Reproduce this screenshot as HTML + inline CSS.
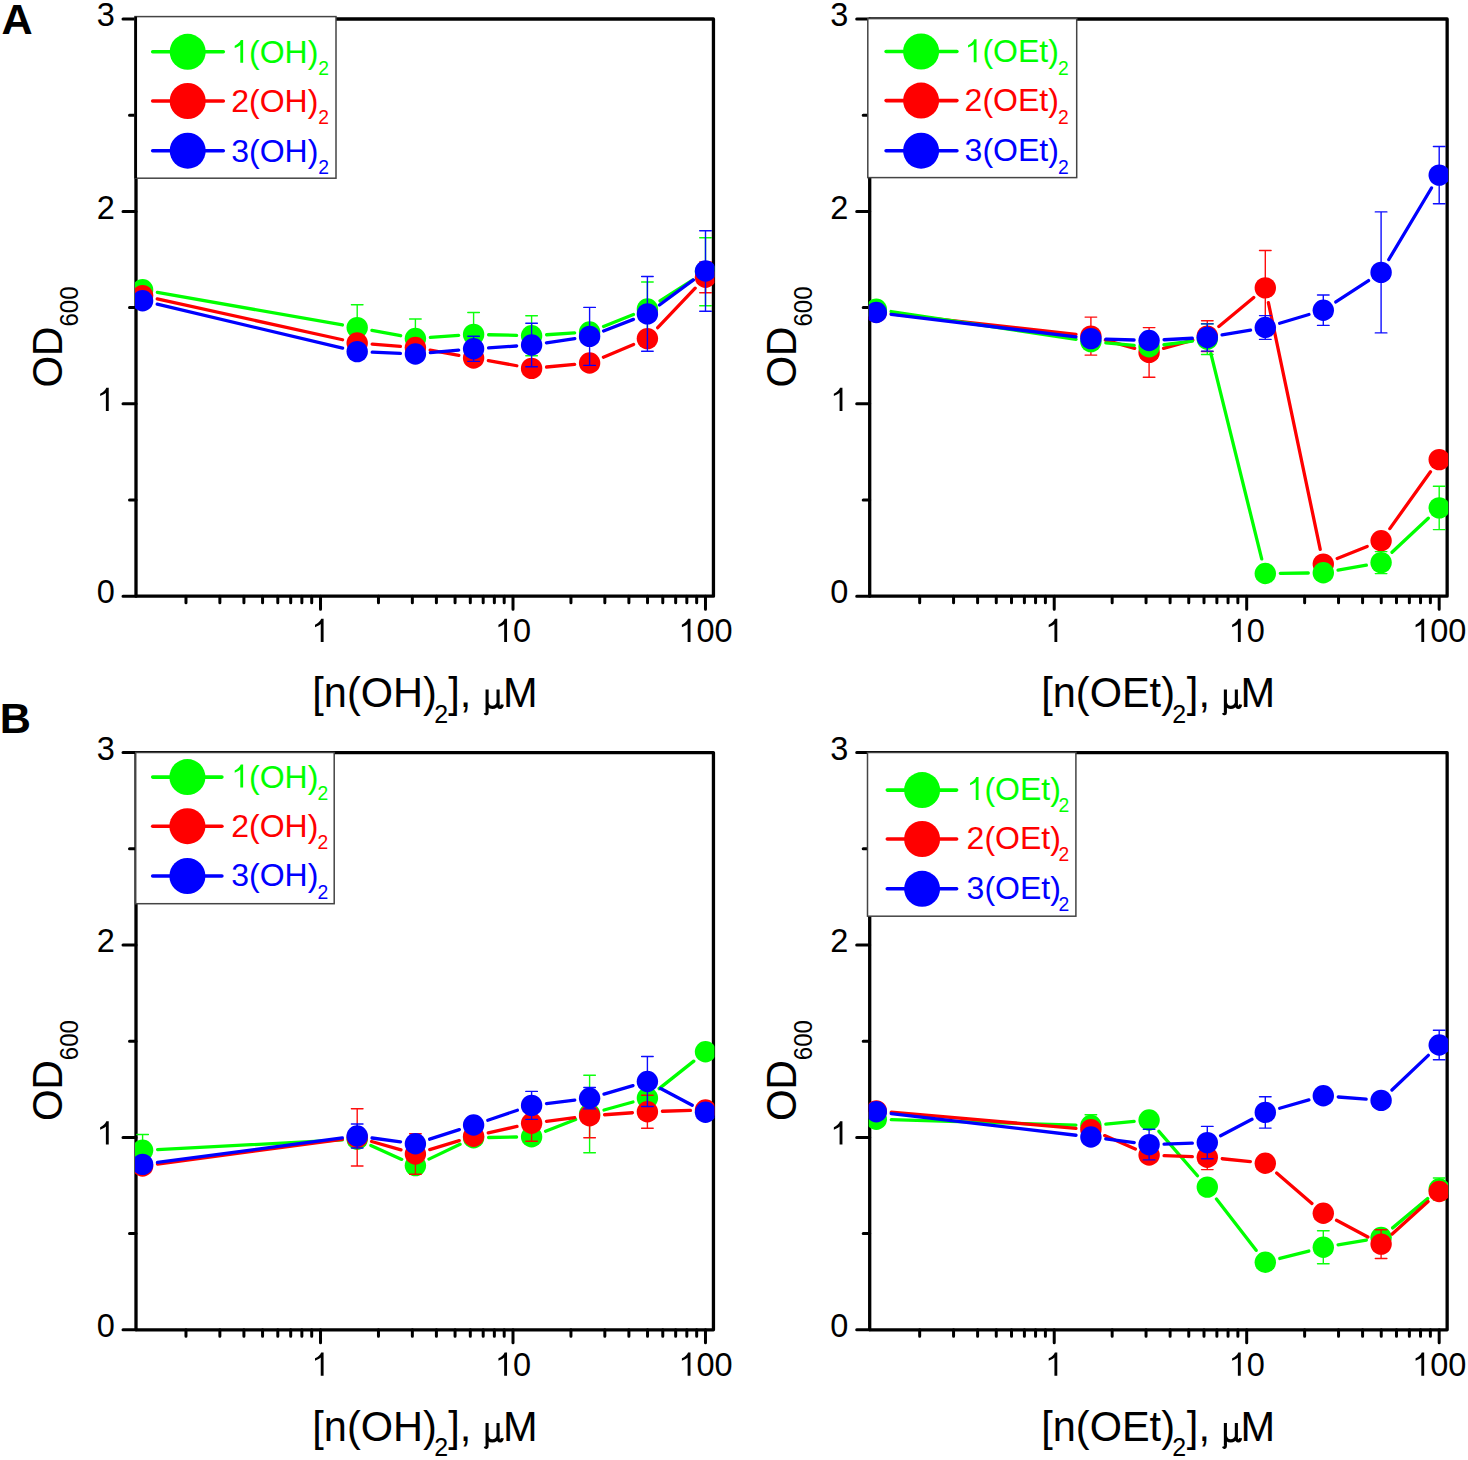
<!DOCTYPE html>
<html><head><meta charset="utf-8"><style>
html,body{margin:0;padding:0;background:#fff;overflow:hidden;}
svg{display:block;}
text{font-family:"Liberation Sans", sans-serif;}
</style></head><body>
<svg width="1468" height="1460" viewBox="0 0 1468 1460">
<rect width="1468" height="1460" fill="#fff"/>
<clipPath id="cAL"><rect x="135" y="18" width="579.45" height="579.2"/></clipPath>
<rect x="136" y="19" width="577.45" height="577.2" fill="none" stroke="#000" stroke-width="3.3" stroke-linejoin="round"/>
<path d="M123 596.2H136M123 403.8H136M123 211.4H136M123 19H136M129.5 500H136M129.5 307.6H136M129.5 115.2H136M185.98 596.2V602.7M219.87 596.2V602.7M243.92 596.2V602.7M262.57 596.2V602.7M277.81 596.2V602.7M290.7 596.2V602.7M301.86 596.2V602.7M311.71 596.2V602.7M320.52 596.2V609.2M378.46 596.2V602.7M412.35 596.2V602.7M436.4 596.2V602.7M455.06 596.2V602.7M470.3 596.2V602.7M483.18 596.2V602.7M494.35 596.2V602.7M504.19 596.2V602.7M513 596.2V609.2M570.94 596.2V602.7M604.84 596.2V602.7M628.89 596.2V602.7M647.54 596.2V602.7M662.78 596.2V602.7M675.67 596.2V602.7M686.83 596.2V602.7M696.68 596.2V602.7M705.48 596.2V609.2" stroke="#000" stroke-width="3.0" fill="none" stroke-linecap="round"/>
<text x="96.63" y="603.4" font-size="32.5" fill="#000">0</text>
<path d="M763 0H583V1147Q521 1090 422 1034Q318 975 222 942V1092Q366 1160 470 1262Q566 1356 612 1466H763Z" transform="translate(96.63,411) scale(0.01587,-0.01587)" fill="#000"/>
<text x="96.63" y="218.6" font-size="32.5" fill="#000">2</text>
<text x="96.63" y="26.2" font-size="32.5" fill="#000">3</text>
<path d="M763 0H583V1147Q521 1090 422 1034Q318 975 222 942V1092Q366 1160 470 1262Q566 1356 612 1466H763Z" transform="translate(311.48,642.1) scale(0.01587,-0.01587)" fill="#000"/>
<path d="M763 0H583V1147Q521 1090 422 1034Q318 975 222 942V1092Q366 1160 470 1262Q566 1356 612 1466H763Z" transform="translate(494.92,642.1) scale(0.01587,-0.01587)" fill="#000"/>
<text x="513" y="642.1" font-size="32.5" fill="#000">0</text>
<path d="M763 0H583V1147Q521 1090 422 1034Q318 975 222 942V1092Q366 1160 470 1262Q566 1356 612 1466H763Z" transform="translate(678.37,642.1) scale(0.01587,-0.01587)" fill="#000"/>
<text x="696.45" y="642.1" font-size="32.5" fill="#000">00</text>
<g transform="translate(0,707.4) scale(1,1.02) translate(0,-707.4)">
<text x="312.34" y="707.4" font-size="41.5">[n(OH)</text>
<text x="434.24" y="722.6" font-size="25">2</text>
<text x="448.28" y="707.4" font-size="41.5">],</text>
<path transform="translate(484.2,707.4)" d="M2.9 -17.6V4.9C2.9 6.5 1.5 6.7 0.9 5.3M2.9 -4.8C3.6 -1.3 5.6 -0.1 8.2 -0.1C10.6 -0.1 12.6 -1.4 13.85 -4.3M13.85 -17.6V-3.2C13.85 -1 15 -0.1 16.1 -0.1C17.2 -0.1 17.9 -1.2 18.1 -2.8" fill="none" stroke="#000" stroke-width="3.1"/>
<text x="502.9" y="707.4" font-size="41.5">M</text>
</g>
<text transform="translate(61.9,385.6) rotate(-90) scale(0.98,1.04)" font-size="41.5" x="-1.97">OD<tspan font-size="24.5" dy="15.7">600</tspan></text>
<g clip-path="url(#cAL)">
<path d="M157.37 292.31L342.43 324.99M371.94 330.36L400.66 335.74M430.36 337.45L458.64 335.45M488.6 334.74L516.6 335.36M546.57 334.75L574.63 332.95M603.54 326.45L633.46 314.55M660.03 300.91L692.87 279.89" stroke="#00ff00" stroke-width="3.3" fill="none" stroke-linecap="round"/>
<path d="M357.2 304.8V350.4M351.4 304.8H363M351.4 350.4H363M415.4 319V358M409.6 319H421.2M409.6 358H421.2M473.6 312.5V356.3M467.8 312.5H479.4M467.8 356.3H479.4M531.6 315.7V355.7M525.8 315.7H537.4M525.8 355.7H537.4M647.4 282V336M641.6 282H653.2M641.6 336H653.2M705.5 237.8V305.8M699.7 237.8H711.3M699.7 305.8H711.3" stroke="#00ff00" stroke-opacity="0.95" stroke-width="1.4" fill="none" stroke-linecap="round"/>
<circle cx="142.6" cy="289.7" r="10.7" fill="#00ff00"/>
<circle cx="357.2" cy="327.6" r="10.7" fill="#00ff00"/>
<circle cx="415.4" cy="338.5" r="10.7" fill="#00ff00"/>
<circle cx="473.6" cy="334.4" r="10.7" fill="#00ff00"/>
<circle cx="531.6" cy="335.7" r="10.7" fill="#00ff00"/>
<circle cx="589.6" cy="332" r="10.7" fill="#00ff00"/>
<circle cx="647.4" cy="309" r="10.7" fill="#00ff00"/>
<circle cx="705.5" cy="271.8" r="10.7" fill="#00ff00"/>
<path d="M157.25 298.84L342.55 339.76M372.16 344.16L400.44 346.34M430.16 350.16L458.84 355.34M488.36 360.65L516.84 365.75M546.54 367.01L574.66 364.39M603.42 357.17L633.58 344.43M657.72 327.71L695.18 288.19" stroke="#ff0000" stroke-width="3.3" fill="none" stroke-linecap="round"/>
<path d="M705.5 261.9V292.7M699.7 261.9H711.3M699.7 292.7H711.3" stroke="#ff0000" stroke-opacity="0.95" stroke-width="1.4" fill="none" stroke-linecap="round"/>
<circle cx="142.6" cy="295.6" r="10.7" fill="#ff0000"/>
<circle cx="357.2" cy="343" r="10.7" fill="#ff0000"/>
<circle cx="415.4" cy="347.5" r="10.7" fill="#ff0000"/>
<circle cx="473.6" cy="358" r="10.7" fill="#ff0000"/>
<circle cx="531.6" cy="368.4" r="10.7" fill="#ff0000"/>
<circle cx="589.6" cy="363" r="10.7" fill="#ff0000"/>
<circle cx="647.4" cy="338.6" r="10.7" fill="#ff0000"/>
<circle cx="705.5" cy="277.3" r="10.7" fill="#ff0000"/>
<path d="M157.2 304.16L342.6 348.14M372.19 352.22L400.41 353.38M430.34 352.67L458.66 350.13M488.57 347.82L516.63 345.98M546.44 342.8L574.76 338.6M603.58 330.96L633.42 319.34M659.47 304.99L693.43 279.91" stroke="#0000ff" stroke-width="3.3" fill="none" stroke-linecap="round"/>
<path d="M473.6 336.2V361.4M467.8 336.2H479.4M467.8 361.4H479.4M531.6 323.3V366.7M525.8 323.3H537.4M525.8 366.7H537.4M589.6 307.4V365.4M583.8 307.4H595.4M583.8 365.4H595.4M647.4 276.5V351.3M641.6 276.5H653.2M641.6 351.3H653.2M705.5 230.7V311.3M699.7 230.7H711.3M699.7 311.3H711.3" stroke="#0000ff" stroke-opacity="0.95" stroke-width="1.4" fill="none" stroke-linecap="round"/>
<circle cx="142.6" cy="300.7" r="10.7" fill="#0000ff"/>
<circle cx="357.2" cy="351.6" r="10.7" fill="#0000ff"/>
<circle cx="415.4" cy="354" r="10.7" fill="#0000ff"/>
<circle cx="473.6" cy="348.8" r="10.7" fill="#0000ff"/>
<circle cx="531.6" cy="345" r="10.7" fill="#0000ff"/>
<circle cx="589.6" cy="336.4" r="10.7" fill="#0000ff"/>
<circle cx="647.4" cy="313.9" r="10.7" fill="#0000ff"/>
<circle cx="705.5" cy="271" r="10.7" fill="#0000ff"/>
</g>
<rect x="135" y="16.6" width="201" height="161.6" fill="#fff" stroke="#444" stroke-width="1.5"/>
<path d="M135.75 16.6V178.2" stroke="#000" stroke-width="2.6"/>
<path d="M152.7 51.8H223.3" stroke="#00ff00" stroke-width="3.6" stroke-linecap="round"/>
<circle cx="187.7" cy="51.8" r="18" fill="#00ff00"/>
<path d="M763 0H583V1147Q521 1090 422 1034Q318 975 222 942V1092Q366 1160 470 1262Q566 1356 612 1466H763Z" transform="translate(231.22,62.8) scale(0.01562,-0.01562)" fill="#00ff00"/>
<text x="249.01" y="62.8" font-size="32.0" fill="#00ff00">(OH)</text>
<text x="318.23" y="75.1" font-size="19.3" fill="#00ff00">2</text>
<path d="M152.7 101H223.3" stroke="#ff0000" stroke-width="3.6" stroke-linecap="round"/>
<circle cx="187.7" cy="101" r="18" fill="#ff0000"/>
<text x="231.22" y="112" font-size="32.0" fill="#ff0000">2</text>
<text x="249.01" y="112" font-size="32.0" fill="#ff0000">(OH)</text>
<text x="318.23" y="124.3" font-size="19.3" fill="#ff0000">2</text>
<path d="M152.7 150.7H223.3" stroke="#0000ff" stroke-width="3.6" stroke-linecap="round"/>
<circle cx="187.7" cy="150.7" r="18" fill="#0000ff"/>
<text x="231.22" y="161.7" font-size="32.0" fill="#0000ff">3</text>
<text x="249.01" y="161.7" font-size="32.0" fill="#0000ff">(OH)</text>
<text x="318.23" y="174" font-size="19.3" fill="#0000ff">2</text>
<clipPath id="cAR"><rect x="868.7" y="18" width="579.45" height="579.2"/></clipPath>
<rect x="869.7" y="19" width="577.45" height="577.2" fill="none" stroke="#000" stroke-width="3.3" stroke-linejoin="round"/>
<path d="M856.7 596.2H869.7M856.7 403.8H869.7M856.7 211.4H869.7M856.7 19H869.7M863.2 500H869.7M863.2 307.6H869.7M863.2 115.2H869.7M919.68 596.2V602.7M953.57 596.2V602.7M977.62 596.2V602.7M996.27 596.2V602.7M1011.51 596.2V602.7M1024.4 596.2V602.7M1035.56 596.2V602.7M1045.41 596.2V602.7M1054.22 596.2V609.2M1112.16 596.2V602.7M1146.05 596.2V602.7M1170.1 596.2V602.7M1188.76 596.2V602.7M1204 596.2V602.7M1216.88 596.2V602.7M1228.05 596.2V602.7M1237.89 596.2V602.7M1246.7 596.2V609.2M1304.64 596.2V602.7M1338.54 596.2V602.7M1362.59 596.2V602.7M1381.24 596.2V602.7M1396.48 596.2V602.7M1409.37 596.2V602.7M1420.53 596.2V602.7M1430.38 596.2V602.7M1439.18 596.2V609.2" stroke="#000" stroke-width="3.0" fill="none" stroke-linecap="round"/>
<text x="830.33" y="603.4" font-size="32.5" fill="#000">0</text>
<path d="M763 0H583V1147Q521 1090 422 1034Q318 975 222 942V1092Q366 1160 470 1262Q566 1356 612 1466H763Z" transform="translate(830.33,411) scale(0.01587,-0.01587)" fill="#000"/>
<text x="830.33" y="218.6" font-size="32.5" fill="#000">2</text>
<text x="830.33" y="26.2" font-size="32.5" fill="#000">3</text>
<path d="M763 0H583V1147Q521 1090 422 1034Q318 975 222 942V1092Q366 1160 470 1262Q566 1356 612 1466H763Z" transform="translate(1045.18,642.1) scale(0.01587,-0.01587)" fill="#000"/>
<path d="M763 0H583V1147Q521 1090 422 1034Q318 975 222 942V1092Q366 1160 470 1262Q566 1356 612 1466H763Z" transform="translate(1228.62,642.1) scale(0.01587,-0.01587)" fill="#000"/>
<text x="1246.7" y="642.1" font-size="32.5" fill="#000">0</text>
<path d="M763 0H583V1147Q521 1090 422 1034Q318 975 222 942V1092Q366 1160 470 1262Q566 1356 612 1466H763Z" transform="translate(1412.07,642.1) scale(0.01587,-0.01587)" fill="#000"/>
<text x="1430.15" y="642.1" font-size="32.5" fill="#000">00</text>
<g transform="translate(0,707.4) scale(1,1.02) translate(0,-707.4)">
<text x="1041.24" y="707.4" font-size="41.5">[n(OEt)</text>
<text x="1172.14" y="722.6" font-size="25">2</text>
<text x="1186.88" y="707.4" font-size="41.5">],</text>
<path transform="translate(1222.5,707.4)" d="M2.9 -17.6V4.9C2.9 6.5 1.5 6.7 0.9 5.3M2.9 -4.8C3.6 -1.3 5.6 -0.1 8.2 -0.1C10.6 -0.1 12.6 -1.4 13.85 -4.3M13.85 -17.6V-3.2C13.85 -1 15 -0.1 16.1 -0.1C17.2 -0.1 17.9 -1.2 18.1 -2.8" fill="none" stroke="#000" stroke-width="3.1"/>
<text x="1240.6" y="707.4" font-size="41.5">M</text>
</g>
<text transform="translate(795.6,385.6) rotate(-90) scale(0.98,1.04)" font-size="41.5" x="-1.97">OD<tspan font-size="24.5" dy="15.7">600</tspan></text>
<g clip-path="url(#cAR)">
<path d="M891.21 313.86L1075.99 334.44M1105.34 340.15L1134.66 348.35M1163.54 348.35L1192.86 340.15M1218.84 326.51L1253.76 297.49M1268.38 302.58L1320.22 549.42M1337.21 558.49L1367.19 546.41M1389.83 528.6L1430.47 471.8" stroke="#ff0000" stroke-width="3.3" fill="none" stroke-linecap="round"/>
<path d="M1090.9 317.1V355.1M1085.1 317.1H1096.7M1085.1 355.1H1096.7M1149.1 327.6V377.2M1143.3 327.6H1154.9M1143.3 377.2H1154.9M1207.3 320.7V351.5M1201.5 320.7H1213.1M1201.5 351.5H1213.1M1265.3 250.5V325.3M1259.5 250.5H1271.1M1259.5 325.3H1271.1" stroke="#ff0000" stroke-opacity="0.95" stroke-width="1.4" fill="none" stroke-linecap="round"/>
<circle cx="876.3" cy="312.2" r="10.7" fill="#ff0000"/>
<circle cx="1090.9" cy="336.1" r="10.7" fill="#ff0000"/>
<circle cx="1149.1" cy="352.4" r="10.7" fill="#ff0000"/>
<circle cx="1207.3" cy="336.1" r="10.7" fill="#ff0000"/>
<circle cx="1265.3" cy="287.9" r="10.7" fill="#ff0000"/>
<circle cx="1323.3" cy="564.1" r="10.7" fill="#ff0000"/>
<circle cx="1381.1" cy="540.8" r="10.7" fill="#ff0000"/>
<circle cx="1439.2" cy="459.6" r="10.7" fill="#ff0000"/>
<path d="M891.13 311.53L1076.07 339.37M1105.84 342.91L1134.16 345.39M1163.97 344.76L1192.43 341.04M1210.9 353.66L1261.7 558.94M1280.3 573.32L1308.3 572.98M1338.07 570.19L1366.33 565.21M1392.02 552.32L1428.28 518.18" stroke="#00ff00" stroke-width="3.3" fill="none" stroke-linecap="round"/>
<path d="M1207.3 323.7V354.5M1201.5 323.7H1213.1M1201.5 354.5H1213.1M1381.1 551.6V573.6M1375.3 551.6H1386.9M1375.3 573.6H1386.9M1439.2 486.2V529.6M1433.4 486.2H1445M1433.4 529.6H1445" stroke="#00ff00" stroke-opacity="0.95" stroke-width="1.4" fill="none" stroke-linecap="round"/>
<circle cx="876.3" cy="309.3" r="10.7" fill="#00ff00"/>
<circle cx="1090.9" cy="341.6" r="10.7" fill="#00ff00"/>
<circle cx="1149.1" cy="346.7" r="10.7" fill="#00ff00"/>
<circle cx="1207.3" cy="339.1" r="10.7" fill="#00ff00"/>
<circle cx="1265.3" cy="573.5" r="10.7" fill="#00ff00"/>
<circle cx="1323.3" cy="572.8" r="10.7" fill="#00ff00"/>
<circle cx="1381.1" cy="562.6" r="10.7" fill="#00ff00"/>
<circle cx="1439.2" cy="507.9" r="10.7" fill="#00ff00"/>
<path d="M891.19 314.31L1076.01 336.79M1105.89 339.09L1134.11 340.01M1164.08 339.73L1192.32 338.27M1222.08 334.95L1250.52 330.05M1279.67 323.21L1308.93 314.49M1335.85 301.99L1368.55 280.61M1388.79 259.52L1431.51 187.98" stroke="#0000ff" stroke-width="3.3" fill="none" stroke-linecap="round"/>
<path d="M1207.3 323.9V351.1M1201.5 323.9H1213.1M1201.5 351.1H1213.1M1265.3 315.6V339.4M1259.5 315.6H1271.1M1259.5 339.4H1271.1M1323.3 295V325.4M1317.5 295H1329.1M1317.5 325.4H1329.1M1381.1 211.9V332.9M1375.3 211.9H1386.9M1375.3 332.9H1386.9M1439.2 146.5V203.7M1433.4 146.5H1445M1433.4 203.7H1445" stroke="#0000ff" stroke-opacity="0.95" stroke-width="1.4" fill="none" stroke-linecap="round"/>
<circle cx="876.3" cy="312.5" r="10.7" fill="#0000ff"/>
<circle cx="1090.9" cy="338.6" r="10.7" fill="#0000ff"/>
<circle cx="1149.1" cy="340.5" r="10.7" fill="#0000ff"/>
<circle cx="1207.3" cy="337.5" r="10.7" fill="#0000ff"/>
<circle cx="1265.3" cy="327.5" r="10.7" fill="#0000ff"/>
<circle cx="1323.3" cy="310.2" r="10.7" fill="#0000ff"/>
<circle cx="1381.1" cy="272.4" r="10.7" fill="#0000ff"/>
<circle cx="1439.2" cy="175.1" r="10.7" fill="#0000ff"/>
</g>
<rect x="867.8" y="18.6" width="208.9" height="159" fill="#fff" stroke="#444" stroke-width="1.5"/>
<path d="M886.1 51.5H956.9" stroke="#00ff00" stroke-width="3.6" stroke-linecap="round"/>
<circle cx="921.1" cy="51.5" r="18" fill="#00ff00"/>
<path d="M763 0H583V1147Q521 1090 422 1034Q318 975 222 942V1092Q366 1160 470 1262Q566 1356 612 1466H763Z" transform="translate(964.62,62.2) scale(0.01562,-0.01562)" fill="#00ff00"/>
<text x="982.41" y="62.2" font-size="32.0" fill="#00ff00">(OEt)</text>
<text x="1058.03" y="74.5" font-size="19.3" fill="#00ff00">2</text>
<path d="M886.1 100.6H956.9" stroke="#ff0000" stroke-width="3.6" stroke-linecap="round"/>
<circle cx="921.1" cy="100.6" r="18" fill="#ff0000"/>
<text x="964.62" y="111.3" font-size="32.0" fill="#ff0000">2</text>
<text x="982.41" y="111.3" font-size="32.0" fill="#ff0000">(OEt)</text>
<text x="1058.03" y="123.6" font-size="19.3" fill="#ff0000">2</text>
<path d="M886.1 150.7H956.9" stroke="#0000ff" stroke-width="3.6" stroke-linecap="round"/>
<circle cx="921.1" cy="150.7" r="18" fill="#0000ff"/>
<text x="964.62" y="161.4" font-size="32.0" fill="#0000ff">3</text>
<text x="982.41" y="161.4" font-size="32.0" fill="#0000ff">(OEt)</text>
<text x="1058.03" y="173.7" font-size="19.3" fill="#0000ff">2</text>
<clipPath id="cBL"><rect x="135" y="751.6" width="579.45" height="579.2"/></clipPath>
<rect x="136" y="752.6" width="577.45" height="577.2" fill="none" stroke="#000" stroke-width="3.3" stroke-linejoin="round"/>
<path d="M123 1329.8H136M123 1137.4H136M123 945H136M123 752.6H136M129.5 1233.6H136M129.5 1041.2H136M129.5 848.8H136M185.98 1329.8V1336.3M219.87 1329.8V1336.3M243.92 1329.8V1336.3M262.57 1329.8V1336.3M277.81 1329.8V1336.3M290.7 1329.8V1336.3M301.86 1329.8V1336.3M311.71 1329.8V1336.3M320.52 1329.8V1342.8M378.46 1329.8V1336.3M412.35 1329.8V1336.3M436.4 1329.8V1336.3M455.06 1329.8V1336.3M470.3 1329.8V1336.3M483.18 1329.8V1336.3M494.35 1329.8V1336.3M504.19 1329.8V1336.3M513 1329.8V1342.8M570.94 1329.8V1336.3M604.84 1329.8V1336.3M628.89 1329.8V1336.3M647.54 1329.8V1336.3M662.78 1329.8V1336.3M675.67 1329.8V1336.3M686.83 1329.8V1336.3M696.68 1329.8V1336.3M705.48 1329.8V1342.8" stroke="#000" stroke-width="3.0" fill="none" stroke-linecap="round"/>
<text x="96.63" y="1337" font-size="32.5" fill="#000">0</text>
<path d="M763 0H583V1147Q521 1090 422 1034Q318 975 222 942V1092Q366 1160 470 1262Q566 1356 612 1466H763Z" transform="translate(96.63,1144.6) scale(0.01587,-0.01587)" fill="#000"/>
<text x="96.63" y="952.2" font-size="32.5" fill="#000">2</text>
<text x="96.63" y="759.8" font-size="32.5" fill="#000">3</text>
<path d="M763 0H583V1147Q521 1090 422 1034Q318 975 222 942V1092Q366 1160 470 1262Q566 1356 612 1466H763Z" transform="translate(311.48,1375.7) scale(0.01587,-0.01587)" fill="#000"/>
<path d="M763 0H583V1147Q521 1090 422 1034Q318 975 222 942V1092Q366 1160 470 1262Q566 1356 612 1466H763Z" transform="translate(494.92,1375.7) scale(0.01587,-0.01587)" fill="#000"/>
<text x="513" y="1375.7" font-size="32.5" fill="#000">0</text>
<path d="M763 0H583V1147Q521 1090 422 1034Q318 975 222 942V1092Q366 1160 470 1262Q566 1356 612 1466H763Z" transform="translate(678.37,1375.7) scale(0.01587,-0.01587)" fill="#000"/>
<text x="696.45" y="1375.7" font-size="32.5" fill="#000">00</text>
<g transform="translate(0,1441) scale(1,1.02) translate(0,-1441)">
<text x="312.34" y="1441" font-size="41.5">[n(OH)</text>
<text x="434.24" y="1456.2" font-size="25">2</text>
<text x="448.28" y="1441" font-size="41.5">],</text>
<path transform="translate(484.2,1441)" d="M2.9 -17.6V4.9C2.9 6.5 1.5 6.7 0.9 5.3M2.9 -4.8C3.6 -1.3 5.6 -0.1 8.2 -0.1C10.6 -0.1 12.6 -1.4 13.85 -4.3M13.85 -17.6V-3.2C13.85 -1 15 -0.1 16.1 -0.1C17.2 -0.1 17.9 -1.2 18.1 -2.8" fill="none" stroke="#000" stroke-width="3.1"/>
<text x="502.9" y="1441" font-size="41.5">M</text>
</g>
<text transform="translate(61.9,1119.2) rotate(-90) scale(0.98,1.04)" font-size="41.5" x="-1.97">OD<tspan font-size="24.5" dy="15.7">600</tspan></text>
<g clip-path="url(#cBL)">
<path d="M157.58 1149.53L342.22 1139.97M370.86 1145.4L401.74 1159.4M428.94 1159.13L460.06 1144.27M488.6 1137.52L516.6 1136.98M545.57 1131.23L575.63 1119.47M604.06 1110L632.94 1102M659.14 1088.66L693.76 1061.14" stroke="#00ff00" stroke-width="3.3" fill="none" stroke-linecap="round"/>
<path d="M142.6 1134.5V1166.1M136.8 1134.5H148.4M136.8 1166.1H148.4M589.6 1075.3V1152.7M583.8 1075.3H595.4M583.8 1152.7H595.4" stroke="#00ff00" stroke-opacity="0.95" stroke-width="1.4" fill="none" stroke-linecap="round"/>
<circle cx="142.6" cy="1150.3" r="10.7" fill="#00ff00"/>
<circle cx="357.2" cy="1139.2" r="10.7" fill="#00ff00"/>
<circle cx="415.4" cy="1165.6" r="10.7" fill="#00ff00"/>
<circle cx="473.6" cy="1137.8" r="10.7" fill="#00ff00"/>
<circle cx="531.6" cy="1136.7" r="10.7" fill="#00ff00"/>
<circle cx="589.6" cy="1114" r="10.7" fill="#00ff00"/>
<circle cx="647.4" cy="1098" r="10.7" fill="#00ff00"/>
<circle cx="705.5" cy="1051.8" r="10.7" fill="#00ff00"/>
<path d="M157.47 1164.02L342.33 1139.38M371.62 1141.51L400.98 1149.89M429.74 1149.61L459.26 1140.59M488.24 1132.92L516.96 1126.48M546.48 1121.3L574.72 1117.7M604.56 1114.74L632.44 1112.76M662.39 1111.26L690.51 1110.44" stroke="#ff0000" stroke-width="3.3" fill="none" stroke-linecap="round"/>
<path d="M357.2 1108.8V1166M351.4 1108.8H363M351.4 1166H363M415.4 1133.8V1174.2M409.6 1133.8H421.2M409.6 1174.2H421.2M531.6 1105.2V1141.2M525.8 1105.2H537.4M525.8 1141.2H537.4M589.6 1093.8V1137.8M583.8 1093.8H595.4M583.8 1137.8H595.4M647.4 1095.2V1128.2M641.6 1095.2H653.2M641.6 1128.2H653.2" stroke="#ff0000" stroke-opacity="0.95" stroke-width="1.4" fill="none" stroke-linecap="round"/>
<circle cx="142.6" cy="1166" r="10.7" fill="#ff0000"/>
<circle cx="357.2" cy="1137.4" r="10.7" fill="#ff0000"/>
<circle cx="415.4" cy="1154" r="10.7" fill="#ff0000"/>
<circle cx="473.6" cy="1136.2" r="10.7" fill="#ff0000"/>
<circle cx="531.6" cy="1123.2" r="10.7" fill="#ff0000"/>
<circle cx="589.6" cy="1115.8" r="10.7" fill="#ff0000"/>
<circle cx="647.4" cy="1111.7" r="10.7" fill="#ff0000"/>
<circle cx="705.5" cy="1110" r="10.7" fill="#ff0000"/>
<path d="M157.47 1162.43L342.33 1137.97M372.07 1137.99L400.53 1141.81M429.67 1139.19L459.33 1129.61M487.81 1120.2L517.39 1110.2M546.49 1103.55L574.71 1100.05M604.01 1094.04L632.99 1085.66M660.65 1088.53L692.25 1105.27" stroke="#0000ff" stroke-width="3.3" fill="none" stroke-linecap="round"/>
<path d="M357.2 1124V1148M351.4 1124H363M351.4 1148H363M531.6 1091.4V1119.4M525.8 1091.4H537.4M525.8 1119.4H537.4M589.6 1087.5V1108.9M583.8 1087.5H595.4M583.8 1108.9H595.4M647.4 1056.5V1106.5M641.6 1056.5H653.2M641.6 1106.5H653.2" stroke="#0000ff" stroke-opacity="0.95" stroke-width="1.4" fill="none" stroke-linecap="round"/>
<circle cx="142.6" cy="1164.4" r="10.7" fill="#0000ff"/>
<circle cx="357.2" cy="1136" r="10.7" fill="#0000ff"/>
<circle cx="415.4" cy="1143.8" r="10.7" fill="#0000ff"/>
<circle cx="473.6" cy="1125" r="10.7" fill="#0000ff"/>
<circle cx="531.6" cy="1105.4" r="10.7" fill="#0000ff"/>
<circle cx="589.6" cy="1098.2" r="10.7" fill="#0000ff"/>
<circle cx="647.4" cy="1081.5" r="10.7" fill="#0000ff"/>
<circle cx="705.5" cy="1112.3" r="10.7" fill="#0000ff"/>
</g>
<rect x="135.7" y="752.5" width="198.5" height="151.2" fill="#fff" stroke="#444" stroke-width="1.5"/>
<path d="M152.7 777.1H221.9" stroke="#00ff00" stroke-width="3.6" stroke-linecap="round"/>
<circle cx="187.4" cy="777.1" r="18" fill="#00ff00"/>
<path d="M763 0H583V1147Q521 1090 422 1034Q318 975 222 942V1092Q366 1160 470 1262Q566 1356 612 1466H763Z" transform="translate(231.22,787.5) scale(0.01562,-0.01562)" fill="#00ff00"/>
<text x="249.01" y="787.5" font-size="32.0" fill="#00ff00">(OH)</text>
<text x="317.53" y="799.8" font-size="19.3" fill="#00ff00">2</text>
<path d="M152.7 826.2H221.9" stroke="#ff0000" stroke-width="3.6" stroke-linecap="round"/>
<circle cx="187.4" cy="826.2" r="18" fill="#ff0000"/>
<text x="231.22" y="836.6" font-size="32.0" fill="#ff0000">2</text>
<text x="249.01" y="836.6" font-size="32.0" fill="#ff0000">(OH)</text>
<text x="317.53" y="848.9" font-size="19.3" fill="#ff0000">2</text>
<path d="M152.7 876H221.9" stroke="#0000ff" stroke-width="3.6" stroke-linecap="round"/>
<circle cx="187.4" cy="876" r="18" fill="#0000ff"/>
<text x="231.22" y="886.4" font-size="32.0" fill="#0000ff">3</text>
<text x="249.01" y="886.4" font-size="32.0" fill="#0000ff">(OH)</text>
<text x="317.53" y="898.7" font-size="19.3" fill="#0000ff">2</text>
<clipPath id="cBR"><rect x="868.7" y="751.6" width="579.45" height="579.2"/></clipPath>
<rect x="869.7" y="752.6" width="577.45" height="577.2" fill="none" stroke="#000" stroke-width="3.3" stroke-linejoin="round"/>
<path d="M856.7 1329.8H869.7M856.7 1137.4H869.7M856.7 945H869.7M856.7 752.6H869.7M863.2 1233.6H869.7M863.2 1041.2H869.7M863.2 848.8H869.7M919.68 1329.8V1336.3M953.57 1329.8V1336.3M977.62 1329.8V1336.3M996.27 1329.8V1336.3M1011.51 1329.8V1336.3M1024.4 1329.8V1336.3M1035.56 1329.8V1336.3M1045.41 1329.8V1336.3M1054.22 1329.8V1342.8M1112.16 1329.8V1336.3M1146.05 1329.8V1336.3M1170.1 1329.8V1336.3M1188.76 1329.8V1336.3M1204 1329.8V1336.3M1216.88 1329.8V1336.3M1228.05 1329.8V1336.3M1237.89 1329.8V1336.3M1246.7 1329.8V1342.8M1304.64 1329.8V1336.3M1338.54 1329.8V1336.3M1362.59 1329.8V1336.3M1381.24 1329.8V1336.3M1396.48 1329.8V1336.3M1409.37 1329.8V1336.3M1420.53 1329.8V1336.3M1430.38 1329.8V1336.3M1439.18 1329.8V1342.8" stroke="#000" stroke-width="3.0" fill="none" stroke-linecap="round"/>
<text x="830.33" y="1337" font-size="32.5" fill="#000">0</text>
<path d="M763 0H583V1147Q521 1090 422 1034Q318 975 222 942V1092Q366 1160 470 1262Q566 1356 612 1466H763Z" transform="translate(830.33,1144.6) scale(0.01587,-0.01587)" fill="#000"/>
<text x="830.33" y="952.2" font-size="32.5" fill="#000">2</text>
<text x="830.33" y="759.8" font-size="32.5" fill="#000">3</text>
<path d="M763 0H583V1147Q521 1090 422 1034Q318 975 222 942V1092Q366 1160 470 1262Q566 1356 612 1466H763Z" transform="translate(1045.18,1375.7) scale(0.01587,-0.01587)" fill="#000"/>
<path d="M763 0H583V1147Q521 1090 422 1034Q318 975 222 942V1092Q366 1160 470 1262Q566 1356 612 1466H763Z" transform="translate(1228.62,1375.7) scale(0.01587,-0.01587)" fill="#000"/>
<text x="1246.7" y="1375.7" font-size="32.5" fill="#000">0</text>
<path d="M763 0H583V1147Q521 1090 422 1034Q318 975 222 942V1092Q366 1160 470 1262Q566 1356 612 1466H763Z" transform="translate(1412.07,1375.7) scale(0.01587,-0.01587)" fill="#000"/>
<text x="1430.15" y="1375.7" font-size="32.5" fill="#000">00</text>
<g transform="translate(0,1441) scale(1,1.02) translate(0,-1441)">
<text x="1041.24" y="1441" font-size="41.5">[n(OEt)</text>
<text x="1172.14" y="1456.2" font-size="25">2</text>
<text x="1186.88" y="1441" font-size="41.5">],</text>
<path transform="translate(1222.5,1441)" d="M2.9 -17.6V4.9C2.9 6.5 1.5 6.7 0.9 5.3M2.9 -4.8C3.6 -1.3 5.6 -0.1 8.2 -0.1C10.6 -0.1 12.6 -1.4 13.85 -4.3M13.85 -17.6V-3.2C13.85 -1 15 -0.1 16.1 -0.1C17.2 -0.1 17.9 -1.2 18.1 -2.8" fill="none" stroke="#000" stroke-width="3.1"/>
<text x="1240.6" y="1441" font-size="41.5">M</text>
</g>
<text transform="translate(795.6,1119.2) rotate(-90) scale(0.98,1.04)" font-size="41.5" x="-1.97">OD<tspan font-size="24.5" dy="15.7">600</tspan></text>
<g clip-path="url(#cBR)">
<path d="M891.29 1119.64L1075.91 1125.06M1105.83 1124.09L1134.17 1121.41M1158.93 1131.33L1197.47 1175.77M1216.47 1198.97L1256.13 1250.33M1279.83 1258.47L1308.77 1251.03M1338.09 1244.79L1366.31 1240.01M1392.62 1227.89L1427.68 1198.61" stroke="#00ff00" stroke-width="3.3" fill="none" stroke-linecap="round"/>
<path d="M1090.9 1114.8V1136.2M1085.1 1114.8H1096.7M1085.1 1136.2H1096.7M1323.3 1230.8V1263.8M1317.5 1230.8H1329.1M1317.5 1263.8H1329.1M1439.2 1178V1200M1433.4 1178H1445M1433.4 1200H1445" stroke="#00ff00" stroke-opacity="0.95" stroke-width="1.4" fill="none" stroke-linecap="round"/>
<circle cx="876.3" cy="1119.2" r="10.7" fill="#00ff00"/>
<circle cx="1090.9" cy="1125.5" r="10.7" fill="#00ff00"/>
<circle cx="1149.1" cy="1120" r="10.7" fill="#00ff00"/>
<circle cx="1207.3" cy="1187.1" r="10.7" fill="#00ff00"/>
<circle cx="1265.3" cy="1262.2" r="10.7" fill="#00ff00"/>
<circle cx="1323.3" cy="1247.3" r="10.7" fill="#00ff00"/>
<circle cx="1381.1" cy="1237.5" r="10.7" fill="#00ff00"/>
<circle cx="1439.2" cy="1189" r="10.7" fill="#00ff00"/>
<path d="M891.24 1112.2L1075.96 1128.3M1104.65 1135.6L1135.35 1149M1164.09 1155.57L1192.31 1156.63M1222.22 1158.74L1250.38 1161.66M1276.66 1172.99L1311.94 1203.41M1336.53 1220.27L1367.87 1237.03M1392.22 1234.03L1428.08 1201.57" stroke="#ff0000" stroke-width="3.3" fill="none" stroke-linecap="round"/>
<path d="M1207.3 1144.8V1169.6M1201.5 1144.8H1213.1M1201.5 1169.6H1213.1M1381.1 1229.7V1258.5M1375.3 1229.7H1386.9M1375.3 1258.5H1386.9" stroke="#ff0000" stroke-opacity="0.95" stroke-width="1.4" fill="none" stroke-linecap="round"/>
<circle cx="876.3" cy="1110.9" r="10.7" fill="#ff0000"/>
<circle cx="1090.9" cy="1129.6" r="10.7" fill="#ff0000"/>
<circle cx="1149.1" cy="1155" r="10.7" fill="#ff0000"/>
<circle cx="1207.3" cy="1157.2" r="10.7" fill="#ff0000"/>
<circle cx="1265.3" cy="1163.2" r="10.7" fill="#ff0000"/>
<circle cx="1323.3" cy="1213.2" r="10.7" fill="#ff0000"/>
<circle cx="1381.1" cy="1244.1" r="10.7" fill="#ff0000"/>
<circle cx="1439.2" cy="1191.5" r="10.7" fill="#ff0000"/>
<path d="M891.2 1113.55L1076 1135.25M1105.77 1138.94L1134.23 1142.66M1164.09 1144.08L1192.31 1143.12M1220.6 1135.67L1252 1119.33M1279.72 1108.27L1308.88 1099.93M1338.25 1096.99L1366.15 1099.21M1391.96 1090.05L1428.34 1055.35" stroke="#0000ff" stroke-width="3.3" fill="none" stroke-linecap="round"/>
<path d="M1149.1 1129.3V1159.9M1143.3 1129.3H1154.9M1143.3 1159.9H1154.9M1207.3 1126.4V1158.8M1201.5 1126.4H1213.1M1201.5 1158.8H1213.1M1265.3 1096.7V1128.1M1259.5 1096.7H1271.1M1259.5 1128.1H1271.1M1439.2 1030.2V1059.8M1433.4 1030.2H1445M1433.4 1059.8H1445" stroke="#0000ff" stroke-opacity="0.95" stroke-width="1.4" fill="none" stroke-linecap="round"/>
<circle cx="876.3" cy="1111.8" r="10.7" fill="#0000ff"/>
<circle cx="1090.9" cy="1137" r="10.7" fill="#0000ff"/>
<circle cx="1149.1" cy="1144.6" r="10.7" fill="#0000ff"/>
<circle cx="1207.3" cy="1142.6" r="10.7" fill="#0000ff"/>
<circle cx="1265.3" cy="1112.4" r="10.7" fill="#0000ff"/>
<circle cx="1323.3" cy="1095.8" r="10.7" fill="#0000ff"/>
<circle cx="1381.1" cy="1100.4" r="10.7" fill="#0000ff"/>
<circle cx="1439.2" cy="1045" r="10.7" fill="#0000ff"/>
</g>
<rect x="867.5" y="752.5" width="208.4" height="163.7" fill="#fff" stroke="#444" stroke-width="1.5"/>
<path d="M887.3 790.1H956.6" stroke="#00ff00" stroke-width="3.6" stroke-linecap="round"/>
<circle cx="922.1" cy="790.1" r="18" fill="#00ff00"/>
<path d="M763 0H583V1147Q521 1090 422 1034Q318 975 222 942V1092Q366 1160 470 1262Q566 1356 612 1466H763Z" transform="translate(966.62,800) scale(0.01562,-0.01562)" fill="#00ff00"/>
<text x="984.41" y="800" font-size="32.0" fill="#00ff00">(OEt)</text>
<text x="1058.53" y="812.3" font-size="19.3" fill="#00ff00">2</text>
<path d="M887.3 839H956.6" stroke="#ff0000" stroke-width="3.6" stroke-linecap="round"/>
<circle cx="922.1" cy="839" r="18" fill="#ff0000"/>
<text x="966.62" y="848.9" font-size="32.0" fill="#ff0000">2</text>
<text x="984.41" y="848.9" font-size="32.0" fill="#ff0000">(OEt)</text>
<text x="1058.53" y="861.2" font-size="19.3" fill="#ff0000">2</text>
<path d="M887.3 888.8H956.6" stroke="#0000ff" stroke-width="3.6" stroke-linecap="round"/>
<circle cx="922.1" cy="888.8" r="18" fill="#0000ff"/>
<text x="966.62" y="898.7" font-size="32.0" fill="#0000ff">3</text>
<text x="984.41" y="898.7" font-size="32.0" fill="#0000ff">(OEt)</text>
<text x="1058.53" y="911" font-size="19.3" fill="#0000ff">2</text>
<text x="1.62" y="34.2" font-size="43.2" font-weight="bold">A</text>
<text x="-0.19" y="733" font-size="43.2" font-weight="bold">B</text>
</svg></body></html>
